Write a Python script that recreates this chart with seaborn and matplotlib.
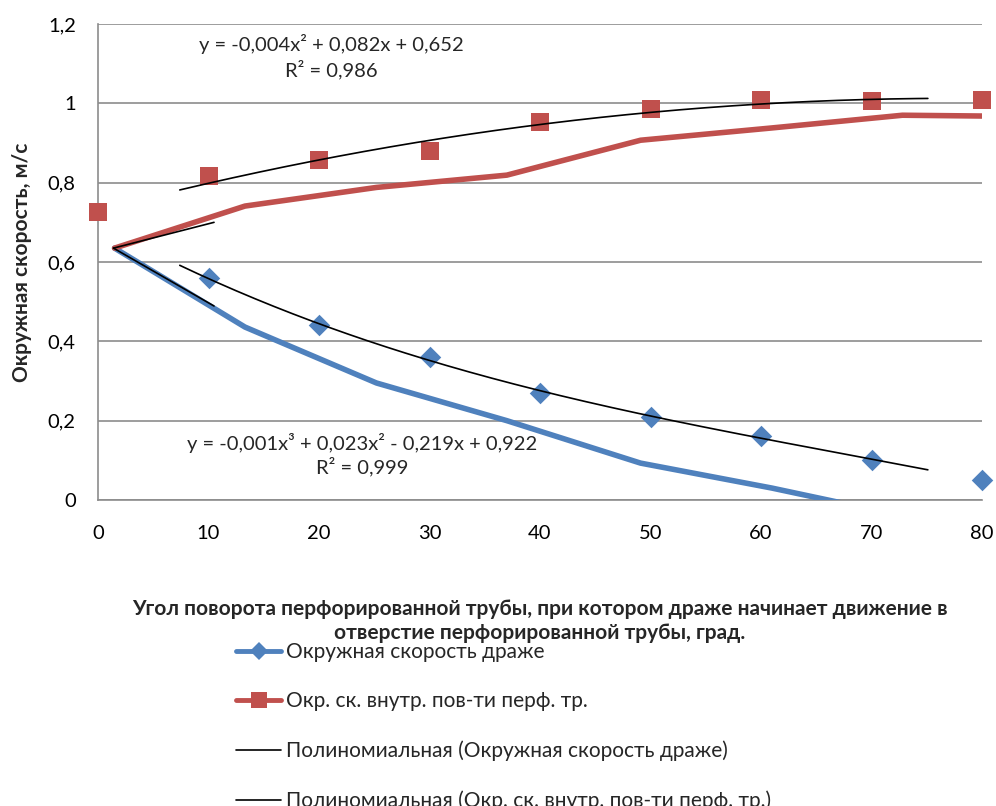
import numpy as np
import pandas as pd
import matplotlib
matplotlib.use("Agg")
import matplotlib.pyplot as plt
from matplotlib.lines import Line2D
import seaborn as sns

# ---- data ----
angles = [0, 10, 20, 30, 40, 50, 60, 70, 80]
# measured points (markers)
drag_x = [10, 20, 30, 40, 50, 60, 70, 80]
drag_v = [0.559, 0.44, 0.36, 0.27, 0.21, 0.161, 0.10, 0.05]
tube_x = [0, 10, 20, 30, 40, 50, 60, 70, 80]
tube_v = [0.725, 0.816, 0.856, 0.88, 0.952, 0.985, 1.008, 1.006, 1.009]
# thick line series
line_x = [1.5, 13.3, 25.2, 37.0, 49.1, 61.0, 72.8, 80.0]
drag_line = [0.635, 0.436, 0.295, 0.20, 0.093, 0.030, -0.04, -0.08]
tube_line = [0.635, 0.741, 0.788, 0.819, 0.907, 0.938, 0.970, 0.968]
# short trend segments of the line series
seg_x = [1.4, 10.5]
seg_drag = [0.635, 0.489]
seg_tube = [0.635, 0.700]
trend_range = [7.4, 75.1]
yticks = [0, 0.2, 0.4, 0.6, 0.8, 1.0, 1.2]
ytick_labels = ["0", "0,2", "0,4", "0,6", "0,8", "1", "1,2"]

eq_tube = ["y = -0,004x² + 0,082x + 0,652", "R² = 0,986"]
eq_drag = ["y = -0,001x³ + 0,023x² - 0,219x + 0,922", "R² = 0,999"]
labels = ["Окружная скорость драже",
          "Окр. ск. внутр. пов-ти перф. тр.",
          "Полиномиальная (Окружная скорость драже)",
          "Полиномиальная (Окр. ск. внутр. пов-ти перф. тр.)"]
xlabel = ("Угол поворота перфорированной трубы, при котором драже начинает движение в\n"
          "отверстие перфорированной трубы, град.")
ylabel = "Окружная скорость, м/с"

BLUE = "#4F81BD"
RED = "#C0504D"
GRID = "#8C8C8C"

sns.set_style("white")
plt.rcParams['font.family'] = ['Lato', 'DejaVu Sans']

fig = plt.figure(figsize=(9.96, 8.06), dpi=100)
ax = fig.add_axes([98/996, 1 - 500/806, (982-98)/996, (500-24)/806])

# trendlines (polynomial fits on category index)
t_tube = np.arange(1, len(tube_x) + 1)
p_tube = np.polyfit(t_tube, tube_v, 2)
t_drag = np.array(drag_x) / 10 + 1
p_drag = np.polyfit(t_drag, drag_v, 3)
xs = np.linspace(trend_range[0], trend_range[1], 200)
ts = xs / 10 + 1
trend_df = pd.DataFrame({"x": np.concatenate([xs, xs]),
                         "y": np.concatenate([np.polyval(p_tube, ts), np.polyval(p_drag, ts)]),
                         "s": ["tube"] * len(xs) + ["drag"] * len(xs)})

# thick lines
sns.lineplot(x=line_x, y=drag_line, ax=ax, color=BLUE, lw=4.0, sort=False, zorder=3)
sns.lineplot(x=line_x, y=tube_line, ax=ax, color=RED, lw=4.0, sort=False, zorder=3)
# short segments
sns.lineplot(x=seg_x, y=seg_drag, ax=ax, color="black", lw=1.2, zorder=4)
sns.lineplot(x=seg_x, y=seg_tube, ax=ax, color="black", lw=1.2, zorder=4)
# markers
sns.scatterplot(x=drag_x, y=drag_v, ax=ax, marker="D", s=120, color=BLUE,
                edgecolor=BLUE, linewidth=0, zorder=5, clip_on=False)
sns.scatterplot(x=tube_x, y=tube_v, ax=ax, marker="s", s=170, color=RED,
                edgecolor=RED, linewidth=0, zorder=5, clip_on=False)
# polynomial trendlines
sns.lineplot(data=trend_df, x="x", y="y", units="s", estimator=None,
             color="black", lw=1.2, ax=ax, zorder=6)

ax.set_xlim(0, 80)
ax.set_ylim(0, 1.2)
ax.set_xticks(angles)
ax.set_xticklabels([str(a) for a in angles])
ax.set_yticks(yticks)
ax.set_yticklabels(ytick_labels)
ax.grid(axis="y", color=GRID, lw=1.2)
ax.set_axisbelow(True)
for s in ["top", "right"]:
    ax.spines[s].set_visible(False)
for s in ["left", "bottom"]:
    ax.spines[s].set_color(GRID)
    ax.spines[s].set_linewidth(1.2)
ax.tick_params(axis="both", direction="out", length=6, width=1.2, color=GRID,
               labelsize=14.5, labelcolor="black")
ax.tick_params(axis="x", pad=12)
ax.tick_params(axis="y", pad=10)
ax.set_xlabel("")
ax.set_ylabel("")

fig.text(22/996, 1 - 262/806, ylabel, rotation=90, ha="center", va="center",
         fontsize=15, fontweight="bold")
fig.text(540/996, 1 - 621/806, xlabel, ha="center", va="center",
         fontsize=15, fontweight="bold", linespacing=1.25)

fig.text(331/996, 1 - 44/806, eq_tube[0], ha="center", va="center", fontsize=14.5)
fig.text(331/996, 1 - 70/806, eq_tube[1], ha="center", va="center", fontsize=14.5)
fig.text(362/996, 1 - 443/806, eq_drag[0], ha="center", va="center", fontsize=14.5)
fig.text(362/996, 1 - 467/806, eq_drag[1], ha="center", va="center", fontsize=14.5)

handles = [
    Line2D([], [], color=BLUE, lw=3.5, marker="D", markersize=9, markeredgewidth=0),
    Line2D([], [], color=RED, lw=3.5, marker="s", markersize=11, markeredgewidth=0),
    Line2D([], [], color="black", lw=1.2),
    Line2D([], [], color="black", lw=1.2),
]
fig.legend(handles, labels, loc="upper left", bbox_to_anchor=(236/996, 1 - 642/806),
           frameon=False, fontsize=15, handlelength=2.16, handletextpad=0.25,
           labelspacing=1.41, borderaxespad=0, borderpad=0)

fig.savefig("out.png", dpi=100)
